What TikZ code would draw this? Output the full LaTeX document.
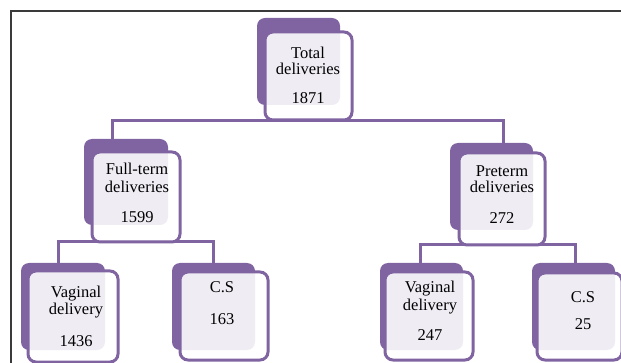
\documentclass[tikz,border=0pt]{standalone}
\usepackage{fontspec}
\setmainfont{Liberation Serif}
\usetikzlibrary{fit}
\definecolor{purp}{HTML}{8064A2}
\definecolor{framec}{HTML}{3A3A3A}
\begin{document}
\begin{tikzpicture}[x=1pt,y=-1pt,
  backbox/.style={fill=purp, draw=none, rounded corners=8pt, inner sep=0pt},
  frontbox/.style={draw=purp, line width=3pt, fill=white, fill opacity=0.88, rounded corners=8pt, inner sep=0pt},
  conn/.style={draw=purp, line width=3pt},
  frame/.style={draw=framec, line width=1.8pt},
  lbl/.style={anchor=base, inner sep=0pt, font=\fontsize{16.5}{17}\selectfont, text=black}]
\useasboundingbox (0,0) rectangle (621,363);
\draw[frame] (11,363) -- (11,11) -- (621,11);
% back boxes
\node[backbox, fit={(257,18) (340,105)}] (topB) {};
\node[backbox, fit={(84,139) (168,225)}] (ftB) {};
\node[backbox, fit={(450,143) (533,230)}] (ptB) {};
\node[backbox, fit={(21,263) (105,350)}] (vlB) {};
\node[backbox, fit={(172,263) (255,350)}] (clB) {};
\node[backbox, fit={(380,263) (463,350)}] (vrB) {};
\node[backbox, fit={(532,263) (615,350)}] (crB) {};
% connector junctions
\coordinate (j1) at (112,121);
\coordinate (j2) at (503,121);
\coordinate (j3) at (58,242);
\coordinate (j4) at (213,242);
\coordinate (j5) at (420,245);
\coordinate (j6) at (575,245);
\draw[conn] (j1 |- ftB.north) -- (j1) -- (j2) -- (j2 |- ptB.north);
\draw[conn] (j3 |- vlB.north) -- (j3) -- (j4) -- (j4 |- clB.north);
\draw[conn] (j5 |- vrB.north) -- (j5) -- (j6) -- (j6 |- crB.north);
% front boxes
\node[frontbox, fit={(265,32) (352,120)}] (topF) {};
\node[frontbox, fit={(92,152) (180,242)}] (ftF) {};
\node[frontbox, fit={(459,153) (545,245)}] (ptF) {};
\node[frontbox, fit={(28,271) (118,362)}] (vlF) {};
\node[frontbox, fit={(180,272) (268,360)}] (clF) {};
\node[frontbox, fit={(385,272) (473,360)}] (vrF) {};
\node[frontbox, fit={(537,273) (622,360)}] (crF) {};
% texts
\node[lbl] (t1) at (308,59) {Total};
\node[lbl] (t2) at (308,75) {deliveries};
\node[lbl] (t3) at (308,104) {1871};
\node[lbl] (f1) at (137,175) {Full-term};
\node[lbl] (f2) at (137,193) {deliveries};
\node[lbl] (f3) at (137,223) {1599};
\node[lbl] (p1) at (502,177) {Preterm};
\node[lbl] (p2) at (502,193) {deliveries};
\node[lbl] (p3) at (502,224) {272};
\node[lbl] (v1) at (76,298) {Vaginal};
\node[lbl] (v2) at (76,314) {delivery};
\node[lbl] (v3) at (76,346) {1436};
\node[lbl] (c1) at (222,293) {C.S};
\node[lbl] (c2) at (222,324) {163};
\node[lbl] (w1) at (430,293) {Vaginal};
\node[lbl] (w2) at (430,310) {delivery};
\node[lbl] (w3) at (430,341) {247};
\node[lbl] (d1) at (583,302) {C.S};
\node[lbl] (d2) at (583,330) {25};
\end{tikzpicture}
\end{document}
